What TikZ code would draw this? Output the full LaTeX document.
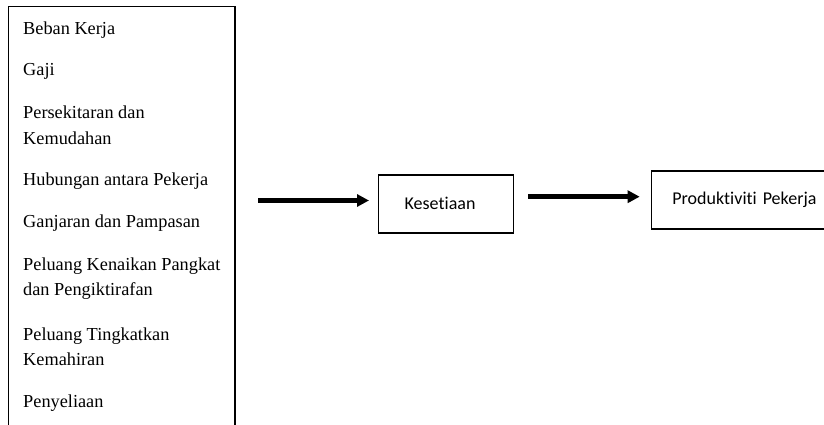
\documentclass[tikz,border=0pt]{standalone}
\usepackage{fontspec}
\setmainfont{Liberation Serif}
\newfontfamily\calib[Ligatures=NoCommon]{Carlito}
\usetikzlibrary{arrows.meta}
\tikzset{
  listitem/.style={anchor=base west, inner sep=0pt, font=\fontsize{18.3pt}{22pt}\selectfont},
  flowbox/.style={draw, line width=1.4pt, minimum height=58pt, align=left, inner ysep=0pt, font=\calib\fontsize{18pt}{22pt}\selectfont},
  fatarrow/.style={line width=4.5pt, -{Triangle[length=12pt,width=12pt]}}
}
\begin{document}
\begin{tikzpicture}[x=1pt,y=-1pt]
\useasboundingbox (0,0) rectangle (824,425);
\clip (0,0) rectangle (824,425);
\fill[white] (0,0) rectangle (824,425);
% left list box (open at bottom)
\draw[line width=1.5pt] (8.7,440) -- (8.7,6.5) -- (235,6.5) -- (235,440);
\node[listitem] (s1) at (23,34.5) {Beban Kerja};
\node[listitem] (s2) at (23,75.5) {Gaji};
\node[listitem] (s3) at (23,119) {Persekitaran dan};
\node[listitem] (s4) at (23,144) {Kemudahan};
\node[listitem] (s5) at (23,185.5) {Hubungan antara Pekerja};
\node[listitem] (s6) at (23,227) {Ganjaran dan Pampasan};
\node[listitem] (s7) at (23,270.5) {Peluang Kenaikan Pangkat};
\node[listitem] (s8) at (23,295.5) {dan Pengiktirafan};
\node[listitem] (s9) at (23,340.5) {Peluang Tingkatkan};
\node[listitem] (s10) at (23,365.5) {Kemahiran};
\node[listitem] (s11) at (23,407) {Penyeliaan};
% flow boxes
\node[flowbox, text width=83pt, inner xsep=26pt, anchor=west] (kes) at (378,203.8) {Kesetiaan};
\node[flowbox, text width=220pt, inner xsep=21pt, anchor=west] (prod) at (650.7,200) {Produktiviti Pekerja};
% arrows
\coordinate (a1s) at (258,200.5);
\coordinate (a2s) at (528,196.7);
\draw[fatarrow, shorten >=9pt] (a1s) -- (a1s -| kes.west);
\draw[fatarrow, shorten >=11pt] (a2s) -- (a2s -| prod.west);
\end{tikzpicture}
\end{document}
